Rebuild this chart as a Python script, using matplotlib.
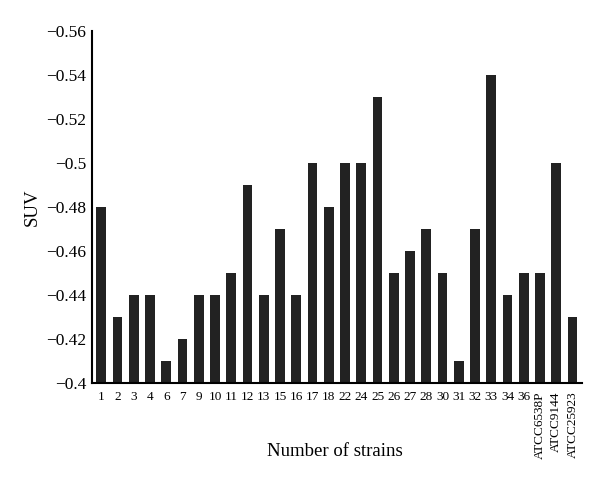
import numpy as np
import matplotlib.pyplot as plt

plt.rcParams['font.family'] = ['Liberation Serif', 'DejaVu Serif']

strains = ["1", "2", "3", "4", "6", "7", "9", "10", "11", "12", "13", "15", "16",
           "17", "18", "22", "24", "25", "26", "27", "28", "30", "31", "32", "33",
           "34", "36", "ATCC6538P", "ATCC9144", "ATCC25923"]
suv = [-0.48, -0.43, -0.44, -0.44, -0.41, -0.42, -0.44, -0.44, -0.45, -0.49,
       -0.44, -0.47, -0.44, -0.50, -0.48, -0.50, -0.50, -0.53, -0.45, -0.46,
       -0.47, -0.45, -0.41, -0.47, -0.54, -0.44, -0.45, -0.45, -0.50, -0.43]
base = -0.4
y_ticks = [-0.4, -0.42, -0.44, -0.46, -0.48, -0.5, -0.52, -0.54, -0.56]
y_labels = ["\u22120.4", "\u22120.42", "\u22120.44", "\u22120.46", "\u22120.48",
            "\u22120.5", "\u22120.52", "\u22120.54", "\u22120.56"]

fig = plt.figure(figsize=(6.0, 4.84), dpi=100)
ax = fig.add_axes([0.153, 0.209, 0.817, 0.727])

x = np.arange(len(strains))
ax.bar(x, np.array(suv) - base, 0.6, bottom=base, color="#222222")

ax.set_ylim(-0.4, -0.56)
ax.set_xlim(-0.58, len(strains) - 0.42)
ax.set_yticks(y_ticks)
ax.set_yticklabels(y_labels, fontsize=12.5)
ax.set_xticks(x)
ax.set_xticklabels(strains, fontsize=9.5)
for lbl in ax.get_xticklabels():
    if lbl.get_text().startswith("ATCC"):
        lbl.set_rotation(90)

ax.tick_params(axis="both", length=0, pad=4)
ax.tick_params(axis="x", pad=6)
for side in ["top", "right"]:
    ax.spines[side].set_visible(False)
for side in ["left", "bottom"]:
    ax.spines[side].set_linewidth(1.5)

ax.set_ylabel("SUV", fontsize=13.5, labelpad=4)
ax.set_xlabel("Number of strains", fontsize=13.5)
ax.xaxis.set_label_coords(0.495, -0.196)
ax.xaxis.label.set_va("center")

fig.savefig("out.png", dpi=100)
